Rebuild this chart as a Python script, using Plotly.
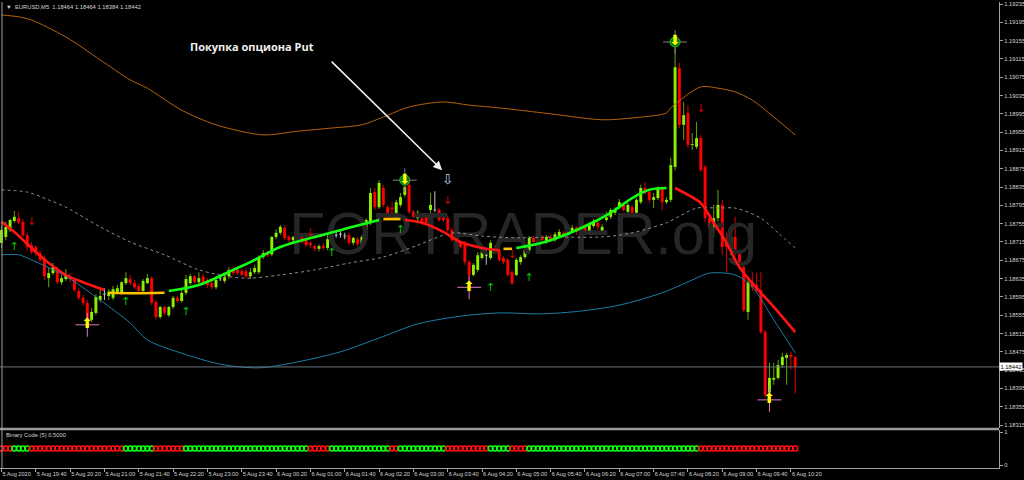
import plotly.graph_objects as go

# ---------------- data ----------------
xtick_idx = [0, 8, 16, 24, 32, 40, 48, 56, 64, 72, 80, 88, 96, 104, 112, 120, 128, 136, 144, 152, 160, 168, 176, 184]
xtick_labels = ["5 Aug 2020", "5 Aug 19:40", "5 Aug 20:20", "5 Aug 21:00", "5 Aug 21:40", "5 Aug 22:20",
                "5 Aug 23:00", "5 Aug 23:40", "6 Aug 00:20", "6 Aug 01:00", "6 Aug 01:40", "6 Aug 02:20",
                "6 Aug 03:00", "6 Aug 03:40", "6 Aug 04:20", "6 Aug 05:00", "6 Aug 05:40", "6 Aug 06:20",
                "6 Aug 07:00", "6 Aug 07:40", "6 Aug 08:20", "6 Aug 09:00", "6 Aug 09:40", "6 Aug 10:20"]
ytick_labels = ["1.18315", "1.18355", "1.18395", "1.18435", "1.18475", "1.18515", "1.18555", "1.18595",
                "1.18635", "1.18675", "1.18715", "1.18755", "1.18795", "1.18835", "1.18875", "1.18915",
                "1.18955", "1.18995", "1.19035", "1.19075", "1.19115", "1.19155", "1.19195", "1.19235"]

opens = [1.18713,1.18726,1.18741,1.18761,1.18767,1.18759,1.18730,1.18708,1.18704,1.18691,
         1.18680,1.18636,1.18647,1.18658,1.18627,1.18634,1.18638,1.18632,1.18608,1.18593,
         1.18582,1.18545,1.18560,1.18588,1.18601,1.18597,1.18593,1.18606,1.18604,1.18625,
         1.18634,1.18625,1.18619,1.18608,1.18625,1.18636,1.18584,1.18551,1.18573,1.18555,
         1.18573,1.18593,1.18586,1.18604,1.18625,1.18640,1.18627,1.18640,1.18632,1.18625,
         1.18616,1.18636,1.18630,1.18640,1.18656,1.18654,1.18651,1.18651,1.18640,1.18649,
         1.18649,1.18682,1.18691,1.18688,1.18726,1.18735,1.18746,1.18726,1.18719,1.18726,
         1.18726,1.18719,1.18713,1.18706,1.18700,1.18706,1.18702,1.18719,1.18730,1.18732,
         1.18728,1.18730,1.18713,1.18721,1.18708,1.18726,1.18757,1.18824,1.18791,1.18833,
         1.18791,1.18779,1.18767,1.18796,1.18818,1.18840,1.18781,1.18767,1.18767,1.18770,
         1.18785,1.18785,1.18785,1.18774,1.18767,1.18741,1.18719,1.18713,1.18713,1.18671,
         1.18643,1.18654,1.18680,1.18686,1.18680,1.18702,1.18697,1.18680,1.18676,1.18649,
         1.18643,1.18671,1.18682,1.18697,1.18724,1.18715,1.18726,1.18715,1.18726,1.18719,
         1.18728,1.18735,1.18728,1.18739,1.18746,1.18737,1.18748,1.18739,1.18750,1.18757,
         1.18737,1.18763,1.18770,1.18779,1.18791,1.18796,1.18781,1.18791,1.18779,1.18802,
         1.18833,1.18824,1.18807,1.18811,1.18833,1.18802,1.18807,1.18879,1.19095,1.18971,
         1.18997,1.18927,1.18923,1.18942,1.18879,1.18767,1.18748,1.18767,1.18796,1.18713,
         1.18708,1.18726,1.18693,1.18660,1.18562,1.18627,1.18621,1.18610,1.18518,1.18386,
         1.18414,1.18418,1.18446,1.18462,1.18468,1.18464]
highs = [1.18752,1.18759,1.18765,1.18783,1.18781,1.18765,1.18735,1.18715,1.18708,1.18697,
         1.18686,1.18658,1.18669,1.18662,1.18643,1.18656,1.18647,1.18636,1.18614,1.18599,
         1.18588,1.18571,1.18601,1.18614,1.18614,1.18612,1.18619,1.18621,1.18629,1.18649,
         1.18643,1.18632,1.18625,1.18634,1.18645,1.18640,1.18588,1.18575,1.18575,1.18575,
         1.18597,1.18597,1.18610,1.18643,1.18645,1.18643,1.18649,1.18645,1.18636,1.18630,
         1.18636,1.18643,1.18647,1.18660,1.18662,1.18658,1.18656,1.18658,1.18658,1.18665,
         1.18686,1.18697,1.18695,1.18728,1.18743,1.18752,1.18752,1.18730,1.18728,1.18730,
         1.18735,1.18724,1.18717,1.18710,1.18710,1.18713,1.18730,1.18737,1.18737,1.18741,
         1.18735,1.18735,1.18726,1.18726,1.18730,1.18767,1.18833,1.18833,1.18850,1.18840,
         1.18796,1.18785,1.18807,1.18822,1.18837,1.18844,1.18785,1.18785,1.18774,1.18774,
         1.18822,1.18826,1.18789,1.18779,1.18772,1.18746,1.18724,1.18717,1.18717,1.18676,
         1.18669,1.18693,1.18697,1.18697,1.18719,1.18708,1.18702,1.18684,1.18680,1.18654,
         1.18680,1.18686,1.18704,1.18728,1.18728,1.18728,1.18730,1.18730,1.18732,1.18737,
         1.18743,1.18739,1.18746,1.18752,1.18750,1.18754,1.18754,1.18757,1.18765,1.18761,
         1.18754,1.18781,1.18789,1.18791,1.18809,1.18800,1.18800,1.18796,1.18811,1.18840,
         1.18846,1.18829,1.18822,1.18837,1.18837,1.18813,1.18899,1.19139,1.19106,1.19021,
         1.19014,1.18953,1.18977,1.18949,1.18883,1.18774,1.18796,1.18829,1.18807,1.18735,
         1.18737,1.18770,1.18697,1.18665,1.18640,1.18649,1.18647,1.18649,1.18523,1.18451,
         1.18451,1.18457,1.18473,1.18473,1.18475,1.18464]
lows = [1.18702,1.18719,1.18737,1.18757,1.18754,1.18726,1.18697,1.18689,1.18684,1.18671,
        1.18632,1.18616,1.18643,1.18623,1.18621,1.18630,1.18627,1.18606,1.18588,1.18575,
        1.18540,1.18540,1.18555,1.18584,1.18588,1.18588,1.18588,1.18601,1.18599,1.18621,
        1.18621,1.18612,1.18606,1.18604,1.18623,1.18577,1.18545,1.18547,1.18555,1.18551,
        1.18568,1.18582,1.18582,1.18599,1.18621,1.18625,1.18625,1.18621,1.18614,1.18612,
        1.18612,1.18630,1.18625,1.18634,1.18643,1.18643,1.18640,1.18636,1.18634,1.18645,
        1.18645,1.18678,1.18682,1.18684,1.18721,1.18730,1.18719,1.18715,1.18715,1.18711,
        1.18711,1.18704,1.18702,1.18695,1.18695,1.18697,1.18697,1.18715,1.18724,1.18724,
        1.18721,1.18708,1.18708,1.18706,1.18704,1.18721,1.18752,1.18785,1.18787,1.18791,
        1.18763,1.18763,1.18763,1.18791,1.18813,1.18776,1.18767,1.18759,1.18754,1.18752,
        1.18757,1.18781,1.18759,1.18759,1.18737,1.18715,1.18700,1.18700,1.18665,1.18634,
        1.18640,1.18649,1.18676,1.18665,1.18676,1.18689,1.18671,1.18667,1.18640,1.18621,
        1.18640,1.18665,1.18678,1.18693,1.18713,1.18711,1.18717,1.18711,1.18715,1.18715,
        1.18724,1.18724,1.18724,1.18735,1.18730,1.18730,1.18735,1.18735,1.18746,1.18743,
        1.18730,1.18759,1.18765,1.18774,1.18787,1.18781,1.18776,1.18774,1.18774,1.18798,
        1.18818,1.18800,1.18789,1.18807,1.18785,1.18798,1.18802,1.18872,1.18964,1.18938,
        1.18921,1.18916,1.18918,1.18868,1.18759,1.18719,1.18726,1.18759,1.18686,1.18649,
        1.18686,1.18686,1.18660,1.18562,1.18545,1.18608,1.18604,1.18514,1.18375,1.18375,
        1.18403,1.18414,1.18440,1.18403,1.18436,1.18384]
closes = [1.18741,1.18748,1.18763,1.18770,1.18757,1.18730,1.18704,1.18693,1.18691,1.18676,
          1.18640,1.18647,1.18660,1.18627,1.18636,1.18643,1.18634,1.18610,1.18593,1.18582,
          1.18545,1.18562,1.18595,1.18597,1.18601,1.18606,1.18612,1.18614,1.18627,1.18636,
          1.18625,1.18616,1.18608,1.18630,1.18636,1.18582,1.18551,1.18573,1.18560,1.18573,
          1.18593,1.18586,1.18604,1.18634,1.18640,1.18627,1.18636,1.18625,1.18621,1.18616,
          1.18632,1.18636,1.18638,1.18654,1.18647,1.18647,1.18643,1.18640,1.18649,1.18658,
          1.18680,1.18691,1.18686,1.18726,1.18735,1.18748,1.18724,1.18719,1.18726,1.18715,
          1.18715,1.18708,1.18708,1.18700,1.18706,1.18702,1.18721,1.18730,1.18730,1.18732,
          1.18728,1.18713,1.18724,1.18710,1.18726,1.18763,1.18822,1.18791,1.18844,1.18796,
          1.18767,1.18767,1.18802,1.18813,1.18835,1.18781,1.18770,1.18779,1.18759,1.18757,
          1.18796,1.18785,1.18763,1.18763,1.18741,1.18719,1.18704,1.18704,1.18671,1.18643,
          1.18665,1.18686,1.18693,1.18686,1.18713,1.18693,1.18676,1.18671,1.18643,1.18625,
          1.18676,1.18682,1.18697,1.18724,1.18715,1.18724,1.18719,1.18726,1.18719,1.18732,
          1.18737,1.18728,1.18741,1.18746,1.18737,1.18750,1.18739,1.18752,1.18759,1.18748,
          1.18748,1.18774,1.18785,1.18785,1.18802,1.18785,1.18796,1.18779,1.18807,1.18833,
          1.18822,1.18807,1.18813,1.18833,1.18802,1.18807,1.18883,1.19097,1.18971,1.18992,
          1.18927,1.18929,1.18942,1.18872,1.18767,1.18746,1.18767,1.18796,1.18704,1.18704,
          1.18726,1.18693,1.18669,1.18566,1.18627,1.18616,1.18610,1.18518,1.18381,1.18418,
          1.18418,1.18446,1.18464,1.18468,1.18464,1.18442]
doji_idx = [24, 51, 78, 79, 80, 101, 113]

# Bollinger-like bands (bar index, price)
upper_i = [0, 4, 7, 15, 23, 30, 34, 42, 50, 61, 69, 77, 84, 89, 95, 103, 109, 116, 128, 140, 147, 155, 156, 163, 167, 171, 175, 180, 185]
upper_v = [1.19211, 1.19207, 1.19200, 1.19163, 1.19113, 1.19069, 1.19051, 1.19003, 1.18971, 1.18949,
           1.18957, 1.18964, 1.18971, 1.18988, 1.19010, 1.19021, 1.19014, 1.19008, 1.18995, 1.18982,
           1.18986, 1.18997, 1.19008, 1.19054, 1.19051, 1.19043, 1.19025, 1.18988, 1.18949]
mid_i = [0, 6, 11, 15, 23, 30, 38, 46, 54, 58, 65, 73, 81, 89, 97, 103, 106, 112, 120, 128, 140, 147, 155, 162, 167, 171, 177, 181, 185]
mid_v = [1.18829, 1.18824, 1.18807, 1.18791, 1.18748, 1.18715, 1.18687, 1.18654, 1.18638, 1.18636,
         1.18643, 1.18654, 1.18669, 1.18682, 1.18708, 1.18730, 1.18735, 1.18728, 1.18724, 1.18726,
         1.18726, 1.18735, 1.18757, 1.18789, 1.18789, 1.18789, 1.18767, 1.18735, 1.18702]
lower_i = [0, 4, 7, 15, 23, 30, 34, 42, 51, 60, 69, 79, 88, 97, 107, 116, 126, 135, 144, 154, 161, 165, 171, 175, 180, 185]
lower_v = [1.18687, 1.18687, 1.18676, 1.18640, 1.18588, 1.18538, 1.18501, 1.18472, 1.18448, 1.18440,
           1.18453, 1.18475, 1.18505, 1.18536, 1.18553, 1.18560, 1.18558, 1.18564, 1.18577, 1.18604,
           1.18632, 1.18647, 1.18643, 1.18617, 1.18545, 1.18473]

# main coloured moving average (bar index, price, colour state R/Y/G)
ma_i = [0, 3, 7, 11, 15, 19, 24,
        25, 31, 38,
        39, 46, 54, 58, 65, 73, 81, 88,
        89, 93,
        94, 98, 103, 107, 112, 116,
        117, 119,
        120, 128, 139, 143, 147, 151, 155,
        157, 160, 163, 166, 169, 172, 177, 180, 185]
ma_v = [1.18759, 1.18737, 1.18702, 1.18669, 1.18643, 1.18627, 1.18610,
        1.18604, 1.18603, 1.18604,
        1.18608, 1.18621, 1.18654, 1.18671, 1.18704, 1.18726, 1.18746, 1.18763,
        1.18765, 1.18765,
        1.18763, 1.18757, 1.18737, 1.18715, 1.18702, 1.18697,
        1.18700, 1.18700,
        1.18702, 1.18719, 1.18763, 1.18785, 1.18811, 1.18829, 1.18833,
        1.18833, 1.18818, 1.18800, 1.18757, 1.18713, 1.18660, 1.18604, 1.18573, 1.18518]
ma_state = ["R"] * 7 + ["Y"] * 3 + ["G"] * 8 + ["Y"] * 2 + ["R"] * 6 + ["Y"] * 2 + ["G"] * 7 + ["R"] * 9

# signal arrows (bar index, price)
buy_small_i = [3, 29, 43, 77, 93, 114, 123]
buy_small_v = [1.18704, 1.18584, 1.18562, 1.18691, 1.18741, 1.18614, 1.18636]
sell_small_i = [7, 72, 91, 104, 119, 163]
sell_small_v = [1.18758, 1.18735, 1.18791, 1.18805, 1.18687, 1.19004]
buy_big_i = [20, 109, 179]
buy_big_v = [1.18534, 1.18616, 1.18370]
sell_big_i = [94, 157]
sell_big_v = [1.18850, 1.19152]
put_i = [104]
put_v = [1.18850]

# Binary Code (5) sub-window: runs of colour along the bars
binary_level = 0.5
binary_runs = [("R", 3), ("G", 4), ("R", 22), ("G", 7), ("R", 7), ("G", 29), ("R", 5), ("G", 14),
               ("R", 2), ("G", 11), ("R", 10), ("G", 5), ("R", 4), ("G", 40), ("R", 23)]

last_price = 1.18442

# ---------------- styling ----------------
BULL_BODY, BULL_WICK = "#8cf000", "#5f9a00"
BEAR_BODY, BEAR_WICK = "#ff0000", "#d00000"
DOJI = "#b8b8b8"
AXIS = "#a0a0a0"
TXT = "#d4d4d4"
FONT = "Liberation Sans"

n = len(closes)
idx = list(range(n))

body_base, body_len, body_col = [], [], []
wick_base, wick_len, wick_col = [], [], []
for i in idx:
    o, h, l, c = opens[i], highs[i], lows[i], closes[i]
    lo, hi = min(o, c), max(o, c)
    if i in doji_idx:
        bc, wc = DOJI, DOJI
    elif c >= o:
        bc, wc = BULL_BODY, BULL_WICK
    else:
        bc, wc = BEAR_BODY, BEAR_WICK
    if hi - lo < 0.00002:
        body_base.append((lo + hi) / 2 - 0.00001)
        body_len.append(0.00002)
    else:
        body_base.append(lo)
        body_len.append(hi - lo)
    body_col.append(bc)
    wl, wh = min(l, lo), max(h, hi)
    wick_base.append(wl)
    wick_len.append(wh - wl)
    wick_col.append(wc)

fig = go.Figure()

# watermark (behind everything)
fig.add_trace(go.Scatter(x=[121.6], y=[1.18721], mode="text", text=["FORTRADER.org"],
                         textfont=dict(family=FONT, size=59, color="#262626"),
                         hoverinfo="skip", cliponaxis=False))

# bands
fig.add_trace(go.Scatter(x=upper_i, y=upper_v, mode="lines", hoverinfo="skip",
                         line=dict(color="#b5620c", width=1, shape="spline", smoothing=0.8)))
fig.add_trace(go.Scatter(x=mid_i, y=mid_v, mode="lines", hoverinfo="skip",
                         line=dict(color="#8e8e8e", width=1, dash="dot", shape="spline", smoothing=0.8)))
fig.add_trace(go.Scatter(x=lower_i, y=lower_v, mode="lines", hoverinfo="skip",
                         line=dict(color="#1d7ea6", width=1, shape="spline", smoothing=0.8)))

# candles
fig.add_trace(go.Bar(x=idx, y=wick_len, base=wick_base, width=0.25, hoverinfo="skip",
                     marker=dict(color=wick_col, line=dict(width=0))))
fig.add_trace(go.Bar(x=idx, y=body_len, base=body_base, width=0.68, hoverinfo="skip",
                     marker=dict(color=body_col, line=dict(width=0))))

# coloured MA segments
ma_colors = {"R": "#ff1414", "Y": "#ffc000", "G": "#14ff14"}
seg_x, seg_y, cur = [], [], None
segments = []
for xi, yi, st in zip(ma_i, ma_v, ma_state):
    if st != cur and seg_x:
        segments.append((cur, seg_x, seg_y))
        seg_x, seg_y = [], []
    cur = st
    seg_x.append(xi)
    seg_y.append(yi)
segments.append((cur, seg_x, seg_y))
for st, sx, sy in segments:
    fig.add_trace(go.Scatter(x=sx, y=sy, mode="lines", hoverinfo="skip",
                             line=dict(color=ma_colors[st], width=2.6, shape="spline", smoothing=1.0)))

# arrows
fig.add_trace(go.Scatter(x=buy_small_i, y=buy_small_v, mode="text", text=["↑"] * len(buy_small_i),
                         textfont=dict(family="DejaVu Sans", size=11, color="#00c800"), hoverinfo="skip"))
fig.add_trace(go.Scatter(x=sell_small_i, y=sell_small_v, mode="text", text=["↓"] * len(sell_small_i),
                         textfont=dict(family="DejaVu Sans", size=11, color="#d00000"), hoverinfo="skip"))
fig.add_trace(go.Scatter(x=buy_big_i, y=buy_big_v, mode="markers", hoverinfo="skip",
                         marker=dict(symbol="cross-thin-open", size=17, line=dict(color="#ff2020", width=1))))
fig.add_trace(go.Scatter(x=sell_big_i, y=sell_big_v, mode="markers", hoverinfo="skip",
                         marker=dict(symbol="cross-thin-open", size=17, line=dict(color="#20c020", width=1))))
fig.add_trace(go.Scatter(x=sell_big_i, y=sell_big_v, mode="markers", hoverinfo="skip",
                         marker=dict(symbol="circle", size=10, color="#107010", line=dict(color="#20c020", width=1))))
fig.add_trace(go.Scatter(x=buy_big_i, y=buy_big_v, mode="text", text=["⬆"] * len(buy_big_i),
                         textfont=dict(family="DejaVu Sans", size=14, color="#ffff00"), hoverinfo="skip"))
fig.add_trace(go.Scatter(x=sell_big_i, y=sell_big_v, mode="text", text=["⬇"] * len(sell_big_i),
                         textfont=dict(family="DejaVu Sans", size=14, color="#ffff00"), hoverinfo="skip"))
fig.add_trace(go.Scatter(x=put_i, y=put_v, mode="text", text=["⇩"] * len(put_i),
                         textfont=dict(family="DejaVu Sans", size=14, color="#b0c8e8"), hoverinfo="skip"))

# binary code dots
bin_col = []
for col, cnt in binary_runs:
    bin_col += [("#ff1010" if col == "R" else "#10ff10")] * cnt
fig.add_trace(go.Scatter(x=idx, y=[binary_level] * n, mode="markers", yaxis="y2", hoverinfo="skip",
                         marker=dict(symbol="circle-open", size=5, color=bin_col, line=dict(width=1.6))))

H_TOTAL = 466.0
main_bottom = (468 - 428) / H_TOTAL
sub_top = (468 - 430) / H_TOTAL

fig.update_layout(
    template="none",
    width=1024, height=480,
    margin=dict(l=0, r=25, t=2, b=12, autoexpand=False),
    paper_bgcolor="black", plot_bgcolor="black",
    showlegend=False, barmode="overlay",
    xaxis=dict(range=[-0.35, 232.5], anchor="y2", tickvals=xtick_idx, ticktext=xtick_labels,
               tickangle=0, automargin=False,
               ticklabelposition="outside right", ticks="outside", ticklen=3, tickcolor=AXIS,
               tickfont=dict(family=FONT, size=5.6, color=TXT), showline=True, linecolor=AXIS,
               showgrid=False, zeroline=False, fixedrange=True),
    yaxis=dict(domain=[main_bottom, 1], range=[1.1830856, 1.1923937], side="right", automargin=False,
               tickvals=[float(s) for s in ytick_labels], ticktext=ytick_labels,
               ticks="outside", ticklen=3, tickcolor=AXIS,
               tickfont=dict(family=FONT, size=5.8, color=TXT), showline=True, linecolor=AXIS,
               showgrid=False, zeroline=False, fixedrange=True),
    yaxis2=dict(domain=[0, sub_top], range=[-0.0909, 1.0606], side="right", anchor="x", automargin=False,
                tickvals=[0, 1], ticktext=["0", "1"], ticks="outside", ticklen=3, tickcolor=AXIS,
                tickfont=dict(family=FONT, size=5.8, color=TXT), showline=True, linecolor=AXIS,
                showgrid=False, zeroline=False, fixedrange=True),
    shapes=[
        dict(type="line", xref="paper", yref="paper", x0=0.002, x1=0.002, y0=0, y1=1,
             line=dict(color=AXIS, width=1)),
        dict(type="line", xref="paper", yref="paper", x0=0, x1=1, y0=(468 - 429) / H_TOTAL,
             y1=(468 - 429) / H_TOTAL, line=dict(color="#9a9a9a", width=2.5)),
        dict(type="line", xref="paper", yref="y", x0=0, x1=1, y0=last_price, y1=last_price,
             line=dict(color="#68717a", width=1)),
    ],
    annotations=[
        dict(xref="paper", yref="paper", x=0.004, y=1, xanchor="left", yanchor="top", showarrow=False,
             text="▼  EURUSD,M5  1.18464 1.18464 1.18384 1.18442",
             font=dict(family=FONT, size=5.8, color=TXT)),
        dict(xref="paper", yref="y2", x=0.004, y=0.92, xanchor="left", yanchor="middle", showarrow=False,
             text="Binary Code (5) 0.5000", font=dict(family=FONT, size=5.8, color=TXT)),
        dict(xref="paper", yref="y", x=1, y=last_price, xanchor="left", yanchor="middle", showarrow=False,
             text="1.18442", bgcolor="white", borderpad=0.5, font=dict(family=FONT, size=5.8, color="black")),
        dict(xref="paper", yref="paper", x=0.2523, y=(468 - 47) / H_TOTAL, xanchor="center", yanchor="middle",
             showarrow=False, text="<b>Покупка опциона Put</b>",
             font=dict(family="Open Sans", size=11, color="#f0f0f0")),
        dict(xref="x", yref="y", x=102.7, y=1.18872, ax=-112, ay=-110, text="", showarrow=True,
             arrowhead=2, arrowsize=1.1, arrowwidth=1.6, arrowcolor="#f0f0f0"),
    ],
)

fig.write_html("out.html", config={"displayModeBar": False, "staticPlot": True},
               post_script="document.body.style.margin='0px';document.body.style.background='black';")
